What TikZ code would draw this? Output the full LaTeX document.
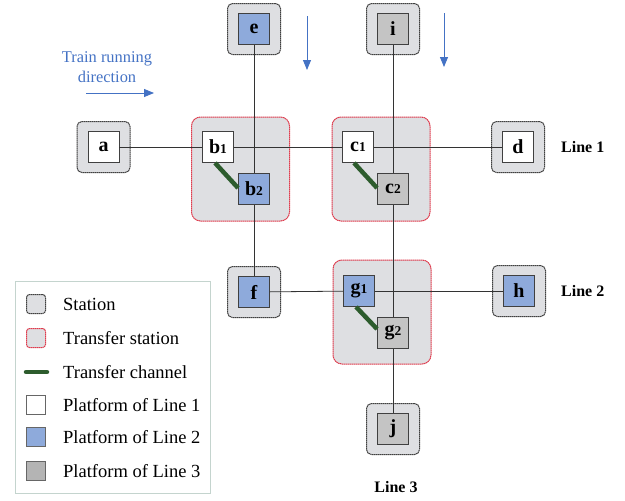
\documentclass[tikz,border=0pt]{standalone}
\usepackage{fontspec}
\setmainfont{Liberation Serif}
\usetikzlibrary{arrows.meta}
\definecolor{stagray}{RGB}{222,223,226}
\definecolor{lineblue}{RGB}{142,170,219}
\definecolor{linegray}{RGB}{196,196,196}
\definecolor{leggray}{RGB}{180,180,180}
\definecolor{chgreen}{RGB}{45,92,45}
\definecolor{arrblue}{RGB}{68,114,196}
\definecolor{xferred}{RGB}{222,60,78}
\definecolor{legframe}{RGB}{196,212,206}
\newcommand{\pname}[2]{#1{\fontsize{13.5}{13.5}\selectfont #2}}

\begin{document}
\begin{tikzpicture}
  [x=1pt,y=-1pt,
   every node/.style={inner sep=0pt, font=\fontsize{20}{20}\selectfont\bfseries},
   station/.style={draw=black!75, line width=1pt, dash pattern=on 1.5pt off 0.5pt, fill=stagray, rounded corners=5pt, minimum width=53pt, minimum height=51pt},
   transfer/.style={draw=xferred, line width=1pt, dash pattern=on 1.5pt off 0.5pt, fill=stagray, rounded corners=9pt, minimum width=98pt, minimum height=104pt},
   platform/.style={draw=black!75, line width=0.9pt, minimum size=31pt},
   pline1/.style={platform, fill=white},
   pline2/.style={platform, fill=lineblue},
   pline3/.style={platform, fill=linegray},
   track/.style={draw=black!80, line width=0.8pt},
   channel/.style={draw=chgreen, line width=4.5pt},
   dirarrow/.style={draw=arrblue, line width=0.9pt, -{Triangle[length=10pt,width=8pt]}},
   legicon/.style={minimum size=19pt, line width=0.9pt},
   legtext/.style={font=\fontsize{18.5}{18.5}\selectfont, anchor=west},
   linename/.style={font=\fontsize{16}{16}\selectfont\bfseries}]
  \useasboundingbox (0,0) rectangle (625,501);

  % stations and transfer stations
  \node[station] (sa) at (103.5,147) {};
  \node[station] (se) at (254,29) {};
  \node[station] (si) at (393,29) {};
  \node[station] (sd) at (518,147) {};
  \node[station] (sf) at (254,292) {};
  \node[station] (sh) at (519,291) {};
  \node[station] (sj) at (393,429) {};
  \node[transfer] (tb) at (240.5,169) {};
  \node[transfer] (tc) at (381,169) {};
  \node[transfer] (tg) at (382,312) {};

  % platforms
  \node[pline1] (a) at (103.5,147) {a};
  \node[pline1] (b1) at (218,147) {\pname{b}{1}};
  \node[pline1] (c1) at (358,147) {\pname{c}{1}};
  \node[pline1] (d) at (518,147) {d};
  \node[pline2] (e) at (254,29) {e};
  \node[pline2] (b2) at (254,189) {\pname{b}{2}};
  \node[pline2] (f) at (254,292) {f};
  \node[pline2] (g1) at (359,291) {\pname{g}{1}};
  \node[pline2] (h) at (519,291) {h};
  \node[pline3] (i) at (393,29) {i};
  \node[pline3] (c2) at (393,189) {\pname{c}{2}};
  \node[pline3] (g2) at (393,333) {\pname{g}{2}};
  \node[pline3] (j) at (393,429) {j};

  \foreach \from/\to in {a/b1, b1/c1, c1/d, e/b2, b2/f, f/g1, g1/h, i/c2, c2/g2, g2/j}
    \draw[track] (\from) -- (\to);

  % transfer channels
  \draw[channel] ([xshift=13pt]b1.south west) -- ([yshift=1pt]b2.west);
  \draw[channel] ([xshift=12pt]c1.south west) -- ([yshift=1pt]c2.west);
  \draw[channel] ([xshift=13pt]g1.south west) -- ([yshift=4pt]g2.west);

  \node[linename, anchor=west] (l1) at (561,147) {Line 1};
  \node[linename, anchor=west] (l2) at (561,291) {Line 2};
  \node[linename] (l3) at (396,487) {Line 3};

  % running direction
  \node[font=\fontsize{16.4}{20}\selectfont, text=arrblue, align=center] (dir) at (107,67) {Train running\\direction};
  \coordinate (h0) at (86,93);  \coordinate (h1) at (154,93);
  \coordinate (v0) at (307,16); \coordinate (v1) at (307,70);
  \coordinate (w0) at (444,13); \coordinate (w1) at (444,67);
  \draw[dirarrow] (h0) -- (h1);
  \draw[dirarrow] (v0) -- (v1);
  \draw[dirarrow] (w0) -- (w1);

  % legend
  \node[draw=legframe, line width=0.8pt, minimum width=195pt, minimum height=212pt] (legend) at (113,387) {};
  \node[legicon, station, minimum width=19pt, minimum height=19pt, rounded corners=3pt] (k1) at (36,304) {};
  \node[legicon, transfer, minimum width=19pt, minimum height=19pt, rounded corners=3pt] (k2) at (36,338) {};
  \coordinate (k3a) at (26,372); \coordinate (k3b) at (47,372);
  \draw[channel, line cap=round] (k3a) -- (k3b);
  \node[legicon, draw=black!60, fill=white] (k4) at (36,405) {};
  \node[legicon, draw=black!60, fill=lineblue] (k5) at (36,437) {};
  \node[legicon, draw=black!60, fill=leggray] (k6) at (36,471) {};
  \node[legtext] (t1) at (63,304) {Station};
  \node[legtext] (t2) at (63,338) {Transfer station};
  \node[legtext] (t3) at (63,372) {Transfer channel};
  \node[legtext] (t4) at (63,405) {Platform of Line 1};
  \node[legtext] (t5) at (63,437) {Platform of Line 2};
  \node[legtext] (t6) at (63,471) {Platform of Line 3};
\end{tikzpicture}
\end{document}
